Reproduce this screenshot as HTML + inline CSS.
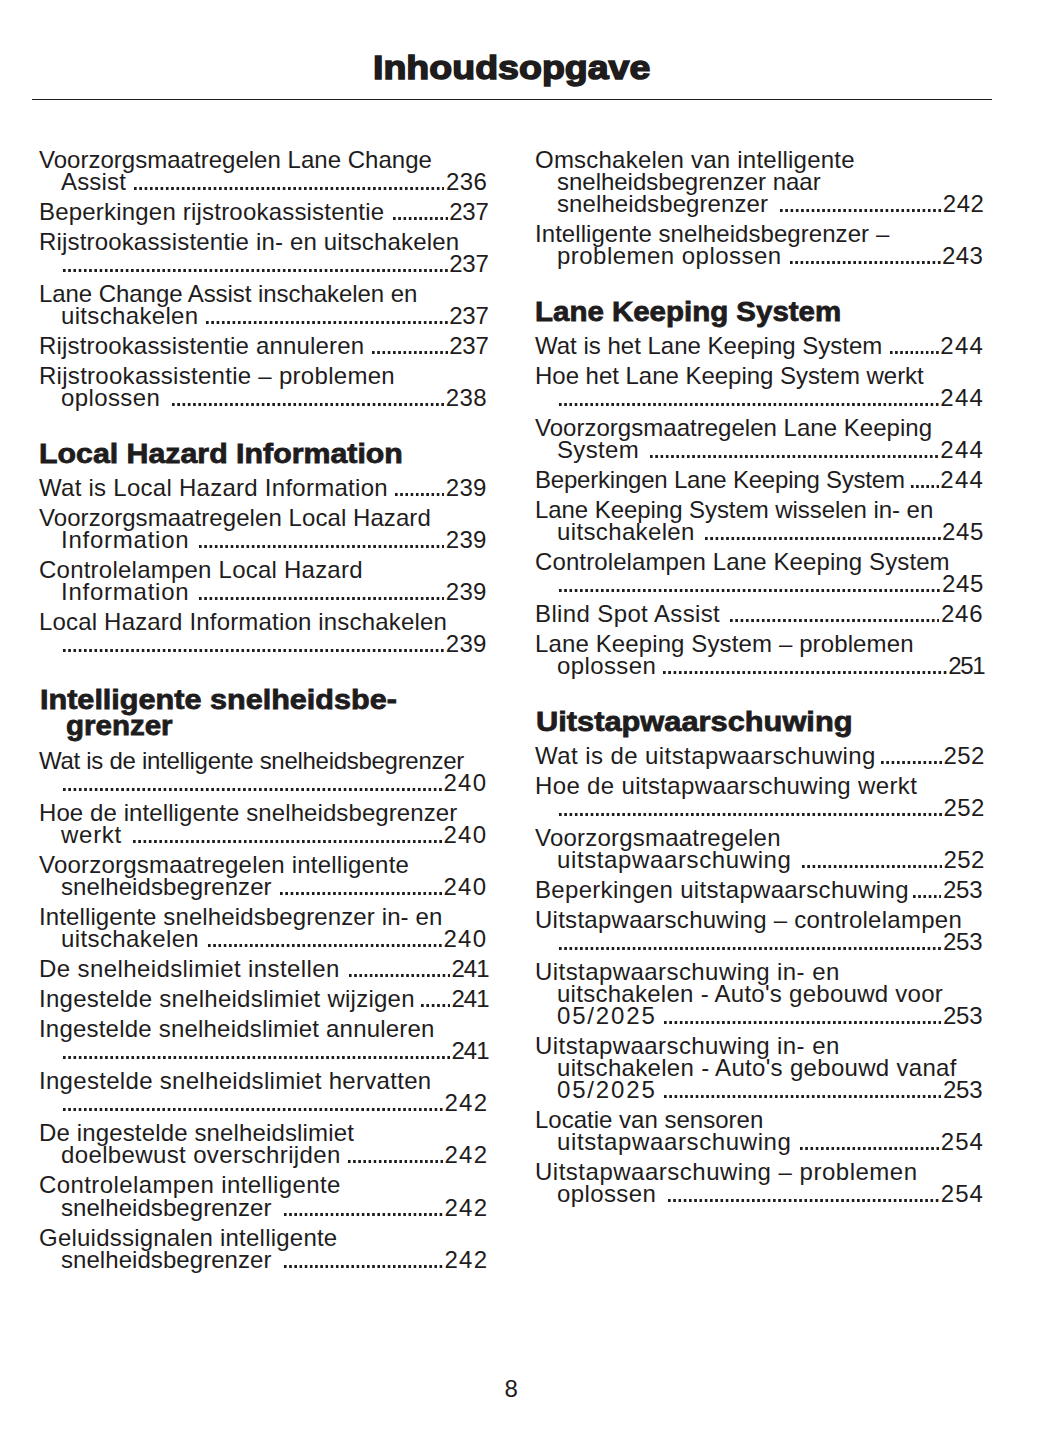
<!DOCTYPE html>
<html><head><meta charset="utf-8"><title>Inhoudsopgave</title>
<style>
html,body{margin:0;padding:0;background:#fff}
body{width:1055px;height:1448px;position:relative;overflow:hidden;font-family:"Liberation Sans",sans-serif;color:#1e1c1d}
.title{position:absolute;font-weight:bold;font-size:34px;line-height:40px;white-space:pre;-webkit-text-stroke:1.5px #1e1c1d}
.rule{position:absolute;left:32px;width:960px;top:98.8px;height:1.7px;background:#1e1c1d}
.t,.n,.h,.pn{position:absolute;white-space:pre;font-size:24px;line-height:24px}
.h{font-weight:bold;font-size:27.5px;line-height:30px;-webkit-text-stroke:0.8px #1e1c1d}
.dots{position:absolute;height:2.6px;background-image:linear-gradient(90deg,#1e1c1d 0,#1e1c1d 2.6px,transparent 2.6px);background-size:5.27px 2.6px;background-repeat:repeat-x}
.pn{left:504.5px;top:1377px}
</style></head><body>
<div class="title" style="left:373.40px;top:47.00px;transform:scaleX(1.1040);transform-origin:0 0">Inhoudsopgave</div>
<div class="rule"></div>
<div class="pn">8</div>
<div class="t" style="left:39.00px;top:147.50px;letter-spacing:0.019px">Voorzorgsmaatregelen Lane Change</div>
<div class="t" style="left:61.00px;top:169.50px;letter-spacing:0.180px">Assist</div>
<div class="n" style="left:445.90px;top:169.50px;letter-spacing:0.400px">236</div>
<div class="dots" style="left:133.70px;top:187.40px;width:310.80px;background-size:5.314px 2.6px"></div>
<div class="t" style="left:39.00px;top:199.50px;letter-spacing:0.200px">Beperkingen rijstrookassistentie</div>
<div class="n" style="left:449.20px;top:199.50px;letter-spacing:-0.250px">237</div>
<div class="dots" style="left:392.50px;top:217.40px;width:55.30px;background-size:5.270px 2.6px"></div>
<div class="t" style="left:39.00px;top:229.50px;letter-spacing:0.169px">Rijstrookassistentie in- en uitschakelen</div>
<div class="n" style="left:449.20px;top:251.50px;letter-spacing:-0.250px">237</div>
<div class="dots" style="left:63.00px;top:269.40px;width:384.80px;background-size:5.236px 2.6px"></div>
<div class="t" style="left:39.00px;top:281.50px;letter-spacing:-0.062px">Lane Change Assist inschakelen en</div>
<div class="t" style="left:61.00px;top:303.50px;letter-spacing:0.336px">uitschakelen</div>
<div class="n" style="left:449.20px;top:303.50px;letter-spacing:-0.250px">237</div>
<div class="dots" style="left:206.00px;top:321.40px;width:241.80px;background-size:5.316px 2.6px"></div>
<div class="t" style="left:39.00px;top:333.50px;letter-spacing:0.169px">Rijstrookassistentie annuleren</div>
<div class="n" style="left:449.20px;top:333.50px;letter-spacing:-0.250px">237</div>
<div class="dots" style="left:371.60px;top:351.40px;width:76.20px;background-size:5.257px 2.6px"></div>
<div class="t" style="left:39.00px;top:363.50px;letter-spacing:0.284px">Rijstrookassistentie – problemen</div>
<div class="t" style="left:61.00px;top:385.50px;letter-spacing:0.386px">oplossen</div>
<div class="n" style="left:445.80px;top:385.50px;letter-spacing:0.400px">238</div>
<div class="dots" style="left:171.70px;top:403.40px;width:272.70px;background-size:5.296px 2.6px"></div>
<div class="t" style="left:39.00px;top:475.50px;letter-spacing:0.267px">Wat is Local Hazard Information</div>
<div class="n" style="left:445.80px;top:475.50px;letter-spacing:0.250px">239</div>
<div class="dots" style="left:394.80px;top:493.40px;width:49.60px;background-size:5.222px 2.6px"></div>
<div class="t" style="left:39.00px;top:505.50px;letter-spacing:0.069px">Voorzorgsmaatregelen Local Hazard</div>
<div class="t" style="left:61.00px;top:527.50px;letter-spacing:0.760px">Information</div>
<div class="n" style="left:445.80px;top:527.50px;letter-spacing:0.250px">239</div>
<div class="dots" style="left:198.50px;top:545.40px;width:245.90px;background-size:5.289px 2.6px"></div>
<div class="t" style="left:39.00px;top:557.50px;letter-spacing:0.231px">Controlelampen Local Hazard</div>
<div class="t" style="left:61.00px;top:579.50px;letter-spacing:0.760px">Information</div>
<div class="n" style="left:445.80px;top:579.50px;letter-spacing:0.250px">239</div>
<div class="dots" style="left:198.50px;top:597.40px;width:245.90px;background-size:5.289px 2.6px"></div>
<div class="t" style="left:39.00px;top:609.50px;letter-spacing:0.180px">Local Hazard Information inschakelen</div>
<div class="n" style="left:445.80px;top:631.50px;letter-spacing:0.250px">239</div>
<div class="dots" style="left:63.00px;top:649.40px;width:381.40px;background-size:5.261px 2.6px"></div>
<div class="t" style="left:39.00px;top:748.50px;letter-spacing:-0.287px">Wat is de intelligente snelheidsbegrenzer</div>
<div class="n" style="left:443.50px;top:770.50px;letter-spacing:1.250px">240</div>
<div class="dots" style="left:63.00px;top:788.40px;width:379.10px;background-size:5.303px 2.6px"></div>
<div class="t" style="left:39.00px;top:800.50px;letter-spacing:0.089px">Hoe de intelligente snelheidsbegrenzer</div>
<div class="t" style="left:61.00px;top:822.50px;letter-spacing:0.725px">werkt</div>
<div class="n" style="left:443.50px;top:822.50px;letter-spacing:1.250px">240</div>
<div class="dots" style="left:133.00px;top:840.40px;width:309.10px;background-size:5.284px 2.6px"></div>
<div class="t" style="left:39.00px;top:852.50px;letter-spacing:0.219px">Voorzorgsmaatregelen intelligente</div>
<div class="t" style="left:61.00px;top:874.50px;letter-spacing:0.065px">snelheidsbegrenzer</div>
<div class="n" style="left:443.50px;top:874.50px;letter-spacing:1.250px">240</div>
<div class="dots" style="left:280.00px;top:892.40px;width:162.10px;background-size:5.317px 2.6px"></div>
<div class="t" style="left:39.00px;top:904.50px;letter-spacing:0.119px">Intelligente snelheidsbegrenzer in- en</div>
<div class="t" style="left:61.00px;top:926.50px;letter-spacing:0.391px">uitschakelen</div>
<div class="n" style="left:443.50px;top:926.50px;letter-spacing:1.250px">240</div>
<div class="dots" style="left:208.00px;top:944.40px;width:234.10px;background-size:5.261px 2.6px"></div>
<div class="t" style="left:39.00px;top:956.50px;letter-spacing:0.400px">De snelheidslimiet instellen</div>
<div class="n" style="left:451.50px;top:956.50px;letter-spacing:-1.000px">241</div>
<div class="dots" style="left:348.60px;top:974.40px;width:101.50px;background-size:5.205px 2.6px"></div>
<div class="t" style="left:39.00px;top:986.50px;letter-spacing:0.256px">Ingestelde snelheidslimiet wijzigen</div>
<div class="n" style="left:451.50px;top:986.50px;letter-spacing:-1.000px">241</div>
<div class="dots" style="left:420.60px;top:1004.40px;width:29.50px;background-size:5.380px 2.6px"></div>
<div class="t" style="left:39.00px;top:1016.50px;letter-spacing:0.206px">Ingestelde snelheidslimiet annuleren</div>
<div class="n" style="left:451.50px;top:1038.50px;letter-spacing:-1.000px">241</div>
<div class="dots" style="left:63.00px;top:1056.40px;width:387.10px;background-size:5.267px 2.6px"></div>
<div class="t" style="left:39.00px;top:1068.50px;letter-spacing:0.303px">Ingestelde snelheidslimiet hervatten</div>
<div class="n" style="left:444.50px;top:1090.50px;letter-spacing:1.250px">242</div>
<div class="dots" style="left:63.00px;top:1108.40px;width:380.10px;background-size:5.243px 2.6px"></div>
<div class="t" style="left:39.00px;top:1120.50px;letter-spacing:0.143px">De ingestelde snelheidslimiet</div>
<div class="t" style="left:61.00px;top:1142.50px;letter-spacing:0.370px">doelbewust overschrijden</div>
<div class="n" style="left:444.50px;top:1142.50px;letter-spacing:1.250px">242</div>
<div class="dots" style="left:347.80px;top:1160.40px;width:95.30px;background-size:5.150px 2.6px"></div>
<div class="t" style="left:39.00px;top:1172.50px;letter-spacing:0.408px">Controlelampen intelligente</div>
<div class="t" style="left:61.00px;top:1195.50px;letter-spacing:0.059px">snelheidsbegrenzer</div>
<div class="n" style="left:444.50px;top:1195.50px;letter-spacing:1.250px">242</div>
<div class="dots" style="left:284.40px;top:1213.40px;width:158.70px;background-size:5.203px 2.6px"></div>
<div class="t" style="left:39.00px;top:1225.50px;letter-spacing:0.222px">Geluidssignalen intelligente</div>
<div class="t" style="left:61.00px;top:1247.50px;letter-spacing:0.059px">snelheidsbegrenzer</div>
<div class="n" style="left:444.50px;top:1247.50px;letter-spacing:1.250px">242</div>
<div class="dots" style="left:284.40px;top:1265.40px;width:158.70px;background-size:5.203px 2.6px"></div>
<div class="t" style="left:535.00px;top:147.50px;letter-spacing:0.222px">Omschakelen van intelligente</div>
<div class="t" style="left:557.00px;top:169.50px;letter-spacing:-0.023px">snelheidsbegrenzer naar</div>
<div class="t" style="left:557.00px;top:191.50px;letter-spacing:0.088px">snelheidsbegrenzer</div>
<div class="n" style="left:942.80px;top:191.50px;letter-spacing:0.550px">242</div>
<div class="dots" style="left:780.00px;top:209.40px;width:161.40px;background-size:5.293px 2.6px"></div>
<div class="t" style="left:535.00px;top:221.50px;letter-spacing:0.062px">Intelligente snelheidsbegrenzer –</div>
<div class="t" style="left:557.00px;top:243.50px;letter-spacing:0.471px">problemen oplossen</div>
<div class="n" style="left:942.10px;top:243.50px;letter-spacing:0.400px">243</div>
<div class="dots" style="left:790.00px;top:261.40px;width:150.70px;background-size:5.289px 2.6px"></div>
<div class="t" style="left:535.00px;top:333.50px;letter-spacing:0.000px">Wat is het Lane Keeping System</div>
<div class="n" style="left:940.20px;top:333.50px;letter-spacing:1.350px">244</div>
<div class="dots" style="left:890.00px;top:351.40px;width:48.80px;background-size:5.133px 2.6px"></div>
<div class="t" style="left:535.00px;top:363.50px;letter-spacing:-0.025px">Hoe het Lane Keeping System werkt</div>
<div class="n" style="left:940.20px;top:385.50px;letter-spacing:1.350px">244</div>
<div class="dots" style="left:559.00px;top:403.40px;width:379.80px;background-size:5.239px 2.6px"></div>
<div class="t" style="left:535.00px;top:415.50px;letter-spacing:0.022px">Voorzorgsmaatregelen Lane Keeping</div>
<div class="t" style="left:557.00px;top:437.50px;letter-spacing:0.360px">System</div>
<div class="n" style="left:940.20px;top:437.50px;letter-spacing:1.350px">244</div>
<div class="dots" style="left:650.40px;top:455.40px;width:288.40px;background-size:5.293px 2.6px"></div>
<div class="t" style="left:535.00px;top:467.50px;letter-spacing:-0.210px">Beperkingen Lane Keeping System</div>
<div class="n" style="left:940.20px;top:467.50px;letter-spacing:1.350px">244</div>
<div class="dots" style="left:910.50px;top:485.40px;width:28.30px;background-size:5.140px 2.6px"></div>
<div class="t" style="left:535.00px;top:497.50px;letter-spacing:-0.059px">Lane Keeping System wisselen in- en</div>
<div class="t" style="left:557.00px;top:519.50px;letter-spacing:0.364px">uitschakelen</div>
<div class="n" style="left:942.10px;top:519.50px;letter-spacing:0.600px">245</div>
<div class="dots" style="left:704.50px;top:537.40px;width:236.20px;background-size:5.309px 2.6px"></div>
<div class="t" style="left:535.00px;top:549.50px;letter-spacing:0.112px">Controlelampen Lane Keeping System</div>
<div class="n" style="left:942.10px;top:571.50px;letter-spacing:0.600px">245</div>
<div class="dots" style="left:559.00px;top:589.40px;width:381.70px;background-size:5.265px 2.6px"></div>
<div class="t" style="left:535.00px;top:601.50px;letter-spacing:0.375px">Blind Spot Assist</div>
<div class="n" style="left:940.90px;top:601.50px;letter-spacing:0.850px">246</div>
<div class="dots" style="left:729.70px;top:619.40px;width:209.80px;background-size:5.313px 2.6px"></div>
<div class="t" style="left:535.00px;top:631.50px;letter-spacing:0.120px">Lane Keeping System – problemen</div>
<div class="t" style="left:557.00px;top:653.50px;letter-spacing:0.400px">oplossen</div>
<div class="n" style="left:948.30px;top:653.50px;letter-spacing:-1.400px">251</div>
<div class="dots" style="left:663.00px;top:671.40px;width:283.90px;background-size:5.308px 2.6px"></div>
<div class="t" style="left:535.00px;top:743.50px;letter-spacing:0.421px">Wat is de uitstapwaarschuwing</div>
<div class="n" style="left:943.50px;top:743.50px;letter-spacing:0.350px">252</div>
<div class="dots" style="left:881.00px;top:761.40px;width:61.10px;background-size:5.318px 2.6px"></div>
<div class="t" style="left:535.00px;top:773.50px;letter-spacing:0.355px">Hoe de uitstapwaarschuwing werkt</div>
<div class="n" style="left:943.50px;top:795.50px;letter-spacing:0.350px">252</div>
<div class="dots" style="left:559.00px;top:813.40px;width:383.10px;background-size:5.285px 2.6px"></div>
<div class="t" style="left:535.00px;top:825.50px;letter-spacing:0.211px">Voorzorgsmaatregelen</div>
<div class="t" style="left:557.00px;top:847.50px;letter-spacing:0.617px">uitstapwaarschuwing</div>
<div class="n" style="left:943.50px;top:847.50px;letter-spacing:0.350px">252</div>
<div class="dots" style="left:801.70px;top:865.40px;width:140.40px;background-size:5.300px 2.6px"></div>
<div class="t" style="left:535.00px;top:877.50px;letter-spacing:0.310px">Beperkingen uitstapwaarschuwing</div>
<div class="n" style="left:942.90px;top:877.50px;letter-spacing:-0.150px">253</div>
<div class="dots" style="left:912.70px;top:895.40px;width:28.80px;background-size:5.240px 2.6px"></div>
<div class="t" style="left:535.00px;top:907.50px;letter-spacing:0.263px">Uitstapwaarschuwing – controlelampen</div>
<div class="n" style="left:942.90px;top:929.50px;letter-spacing:-0.150px">253</div>
<div class="dots" style="left:559.00px;top:947.40px;width:382.50px;background-size:5.276px 2.6px"></div>
<div class="t" style="left:535.00px;top:959.50px;letter-spacing:0.432px">Uitstapwaarschuwing in- en</div>
<div class="t" style="left:557.00px;top:981.50px;letter-spacing:0.273px">uitschakelen - Auto&#x27;s gebouwd voor</div>
<div class="t" style="left:557.00px;top:1003.50px;letter-spacing:1.833px">05/2025</div>
<div class="n" style="left:942.90px;top:1003.50px;letter-spacing:-0.150px">253</div>
<div class="dots" style="left:664.10px;top:1021.40px;width:277.40px;background-size:5.285px 2.6px"></div>
<div class="t" style="left:535.00px;top:1033.50px;letter-spacing:0.432px">Uitstapwaarschuwing in- en</div>
<div class="t" style="left:557.00px;top:1055.50px;letter-spacing:0.312px">uitschakelen - Auto&#x27;s gebouwd vanaf</div>
<div class="t" style="left:557.00px;top:1077.50px;letter-spacing:1.833px">05/2025</div>
<div class="n" style="left:942.90px;top:1077.50px;letter-spacing:-0.150px">253</div>
<div class="dots" style="left:664.10px;top:1095.40px;width:277.40px;background-size:5.285px 2.6px"></div>
<div class="t" style="left:535.00px;top:1107.50px;letter-spacing:0.005px">Locatie van sensoren</div>
<div class="t" style="left:557.00px;top:1129.50px;letter-spacing:0.617px">uitstapwaarschuwing</div>
<div class="n" style="left:940.80px;top:1129.50px;letter-spacing:1.050px">254</div>
<div class="dots" style="left:800.00px;top:1147.40px;width:139.40px;background-size:5.262px 2.6px"></div>
<div class="t" style="left:535.00px;top:1159.50px;letter-spacing:0.507px">Uitstapwaarschuwing – problemen</div>
<div class="t" style="left:557.00px;top:1181.50px;letter-spacing:0.400px">oplossen</div>
<div class="n" style="left:940.80px;top:1181.50px;letter-spacing:1.050px">254</div>
<div class="dots" style="left:668.40px;top:1199.40px;width:271.00px;background-size:5.263px 2.6px"></div>
<div class="h" style="left:38.64px;top:439.00px;transform:scaleX(1.1024);transform-origin:0 0">Local Hazard Information</div>
<div class="h" style="left:39.89px;top:685.00px;transform:scaleX(1.1122);transform-origin:0 0">Intelligente snelheidsbe-</div>
<div class="h" style="left:66.17px;top:711.00px;transform:scaleX(1.0727);transform-origin:0 0">grenzer</div>
<div class="h" style="left:534.89px;top:297.00px;transform:scaleX(1.0714);transform-origin:0 0">Lane Keeping System</div>
<div class="h" style="left:535.88px;top:707.00px;transform:scaleX(1.1196);transform-origin:0 0">Uitstapwaarschuwing</div>
</body></html>
